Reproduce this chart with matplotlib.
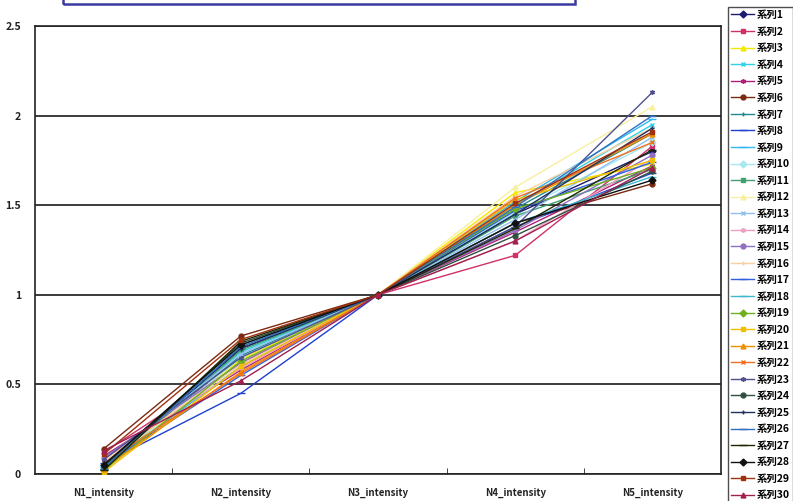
import matplotlib
matplotlib.use("Agg")
import matplotlib.pyplot as plt
from matplotlib.patches import Rectangle

plt.rcParams['font.family'] = ['Noto Sans CJK JP', 'DejaVu Sans']

categories = ["N1_intensity", "N2_intensity", "N3_intensity", "N4_intensity", "N5_intensity"]
series_names = [f"系列{i}" for i in range(1, 31)]

n1 = [0.03, 0.12, 0.02, 0.04, 0.10, 0.14, 0.05, 0.06, 0.04, 0.03,
      0.02, 0.05, 0.06, 0.08, 0.09, 0.07, 0.05, 0.04, 0.02, 0.01,
      0.03, 0.06, 0.08, 0.04, 0.05, 0.03, 0.02, 0.05, 0.11, 0.13]
n2 = [0.70, 0.62, 0.64, 0.68, 0.58, 0.77, 0.66, 0.45, 0.60, 0.65,
      0.69, 0.63, 0.67, 0.59, 0.62, 0.61, 0.55, 0.72, 0.63, 0.60,
      0.57, 0.56, 0.65, 0.73, 0.70, 0.71, 0.74, 0.72, 0.75, 0.52]
n3 = [1.0] * 30
n4 = [1.45, 1.22, 1.57, 1.50, 1.35, 1.40, 1.48, 1.38, 1.52, 1.46,
      1.44, 1.60, 1.42, 1.30, 1.36, 1.55, 1.47, 1.40, 1.48, 1.53,
      1.50, 1.54, 1.38, 1.33, 1.45, 1.49, 1.37, 1.40, 1.51, 1.30]
n5 = [1.80, 1.83, 1.73, 1.95, 1.72, 1.62, 1.90, 1.68, 1.98, 1.85,
      1.70, 2.05, 1.88, 1.76, 1.78, 1.93, 1.74, 1.66, 1.71, 1.75,
      1.90, 1.85, 2.13, 1.69, 1.93, 2.00, 1.81, 1.64, 1.91, 1.71]

colors = ["#1a1a70", "#d0306a", "#f5e800", "#30d0e8", "#b0207a", "#7a2a10",
          "#208890", "#2040d0", "#30b8f0", "#a8e8f0", "#40a070", "#f8f0a0",
          "#90c0f0", "#f0a0c0", "#9070c0", "#f8d0a0", "#3060e0", "#40b8d0",
          "#70b020", "#f0c000", "#f09000", "#f07020", "#505090", "#305040",
          "#203060", "#3070c0", "#202800", "#101010", "#a03010", "#a02050"]
marker_cycle = ['D', 's', '^', 'x', (6, 2, 0), 'o', '+', '_', '_']

fig = plt.figure(figsize=(7.93, 5.01), dpi=100)
ax = fig.add_axes([35/793, 1-474/501, (721-35)/793, (474-26)/501])

x = list(range(len(categories)))
handles = []
for i in range(30):
    ys = [n1[i], n2[i], n3[i], n4[i], n5[i]]
    m = marker_cycle[i % 9]
    ms = 3.5 if m != '_' else 6
    ln, = ax.plot(x, ys, color=colors[i], lw=1.0, marker=m, ms=ms,
                  mfc=colors[i], mec=colors[i], mew=1.0, zorder=3)
    handles.append(ln)

ax.set_xlim(-0.5, 4.5)
ax.set_ylim(0, 2.5)
ax.set_yticks([0, 0.5, 1, 1.5, 2, 2.5])
ax.set_yticklabels(["0", "0.5", "1", "1.5", "2", "2.5"])
ax.set_xticks(x)
ax.set_xticklabels(categories)
ax.set_xticks([0.5, 1.5, 2.5, 3.5], minor=True)
ax.tick_params(axis='x', which='major', length=0, pad=10, labelsize=7, colors='#222222')
ax.tick_params(axis='x', which='minor', length=4, direction='in', color='#222222')
ax.tick_params(axis='y', length=0, pad=10, labelsize=7.5, colors='#222222')
for lab in ax.get_xticklabels() + ax.get_yticklabels():
    lab.set_fontweight('bold')
ax.grid(axis='y', color='#1a1a1a', lw=1.2, zorder=1)
for s in ax.spines.values():
    s.set_color('#222222')
    s.set_linewidth(1.2)

# title box (cut off at top)
fig.patches.append(Rectangle((63/793, 1-4/501), (575-63)/793, 10/501,
                             transform=fig.transFigure, fill=False,
                             edgecolor='#3a3aa0', lw=1.8))

leg = fig.legend(handles, series_names, loc='upper left',
                 bbox_to_anchor=(728/793, 1-7/501), bbox_transform=fig.transFigure,
                 fontsize=7.5, labelspacing=0.63, handlelength=2.2,
                 handletextpad=0.3, borderpad=0.3, borderaxespad=0,
                 frameon=True, fancybox=False, edgecolor='#222222',
                 prop={'weight': 'bold', 'size': 7.5})
leg.get_frame().set_linewidth(1.0)

fig.savefig("out.png", dpi=100)
